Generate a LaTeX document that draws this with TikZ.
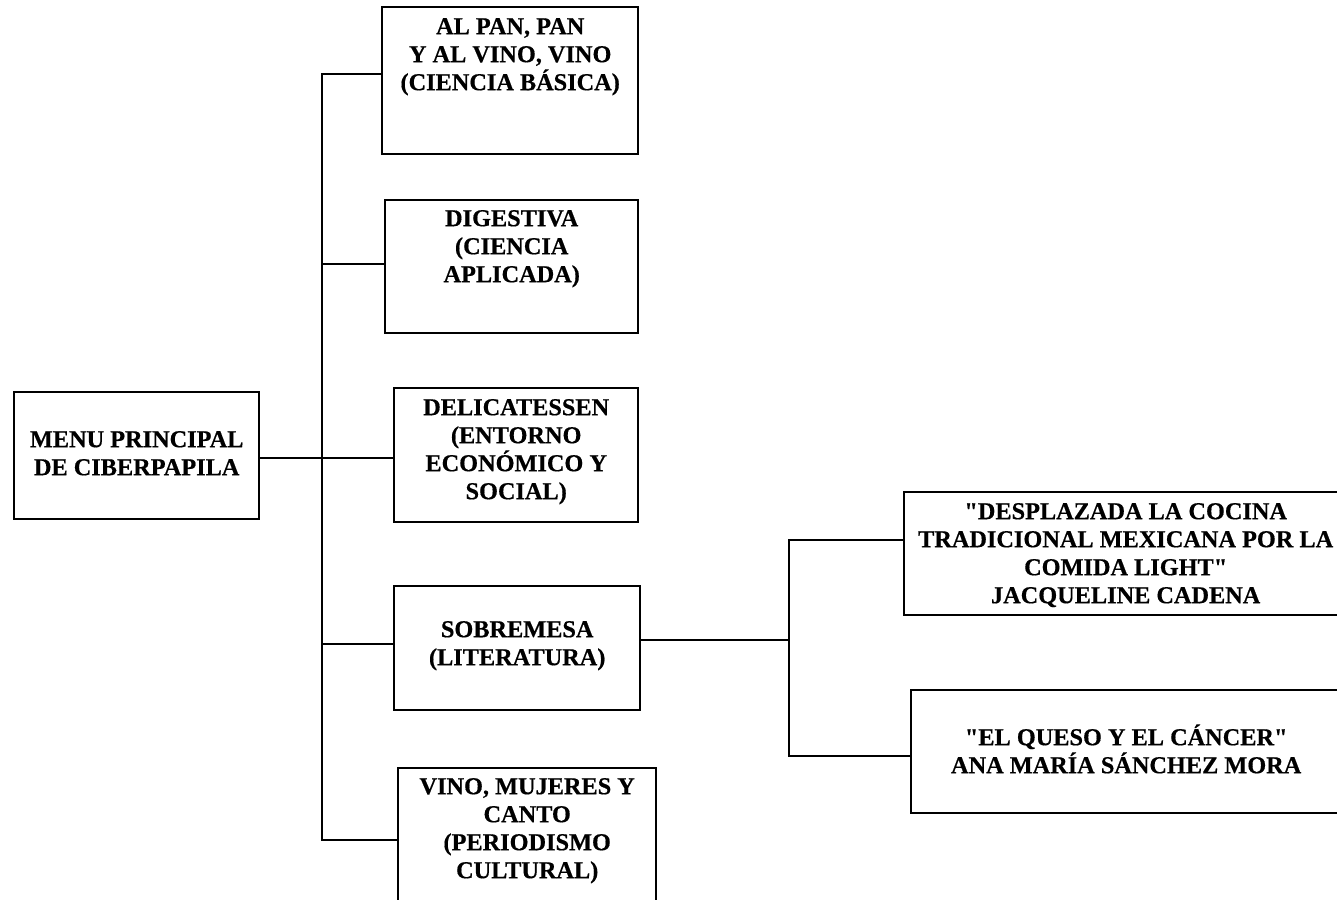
\documentclass[tikz,border=0pt]{standalone}
\usepackage{fontspec}
\setmainfont{Liberation Serif}[Ligatures=TeXOff, BoldFeatures={FakeBold=0.5}]

% Box content: width, height, baseline of the first line from the top, text
\newcommand\cardtext[4]{%
  \parbox[c][#2][t]{#1}{\hbox{}\vskip\dimexpr#3-28pt\relax\centering #4\par}}

\tikzset{
  card/.style={draw, line width=2.4pt, inner sep=0pt, anchor=north west,
    font=\bfseries\fontsize{24.3}{28}\selectfont},
  wire/.style={line width=2.4pt, line join=miter},
}

\begin{document}
\begin{tikzpicture}[x=1pt, y=-1pt]
\useasboundingbox (0,0) rectangle (1337,899);
\fill[white] (0,0) rectangle (1337,899);
\clip (0,0) rectangle (1337,899);

% root of the menu
\node[card] (menu) at (13,391)
  {\cardtext{245pt}{127pt}{55pt}{MENU PRINCIPAL\\DE CIBERPAPILA}};

% first-level sections
\node[card] (pan) at (381,6)
  {\cardtext{256pt}{147pt}{27pt}{AL PAN, PAN\\Y AL VINO, VINO\\(CIENCIA BÁSICA)}};
\node[card] (dig) at (384,199)
  {\cardtext{253pt}{133pt}{26pt}{DIGESTIVA\\(CIENCIA\\APLICADA)}};
\node[card] (deli) at (393,387)
  {\cardtext{244pt}{134pt}{27pt}{DELICATESSEN\\(ENTORNO\\ECONÓMICO Y\\SOCIAL)}};
\node[card] (sobre) at (393,585)
  {\cardtext{246pt}{124pt}{51pt}{SOBREMESA\\(LITERATURA)}};
\node[card] (vino) at (397,767)
  {\cardtext{258pt}{160pt}{26pt}{VINO, MUJERES Y\\CANTO\\(PERIODISMO\\CULTURAL)}};

% articles of the literature section
\node[card] (desp) at (903,491)
  {\cardtext{443pt}{123pt}{27pt}{"DESPLAZADA LA COCINA\\TRADICIONAL MEXICANA POR LA\\COMIDA LIGHT"\\JACQUELINE CADENA}};
\node[card] (queso) at (910,689)
  {\cardtext{430pt}{123pt}{55pt}{"EL QUESO Y EL CÁNCER"\\ANA MARÍA SÁNCHEZ MORA}};

% trunk joining the sections
\coordinate (t1) at (322,74);
\coordinate (t2) at (322,264);
\coordinate (t3) at (322,458);
\coordinate (t4) at (322,644);
\coordinate (t5) at (322,840);
\draw[wire] (t1 -| pan.west) -- (t1) -- (t5) -- (t5 -| vino.west);
\draw[wire] (t2) -- (t2 -| dig.west);
\draw[wire] (t3 -| menu.east) -- (t3 -| deli.west);
\draw[wire] (t4) -- (t4 -| sobre.west);

% branch to the articles
\coordinate (r0) at (789,640);
\coordinate (r1) at (789,540);
\coordinate (r2) at (789,756);
\draw[wire] (r0 -| sobre.east) -- (r0);
\draw[wire] (r1 -| desp.west) -- (r1) -- (r2) -- (r2 -| queso.west);
\end{tikzpicture}
\end{document}
